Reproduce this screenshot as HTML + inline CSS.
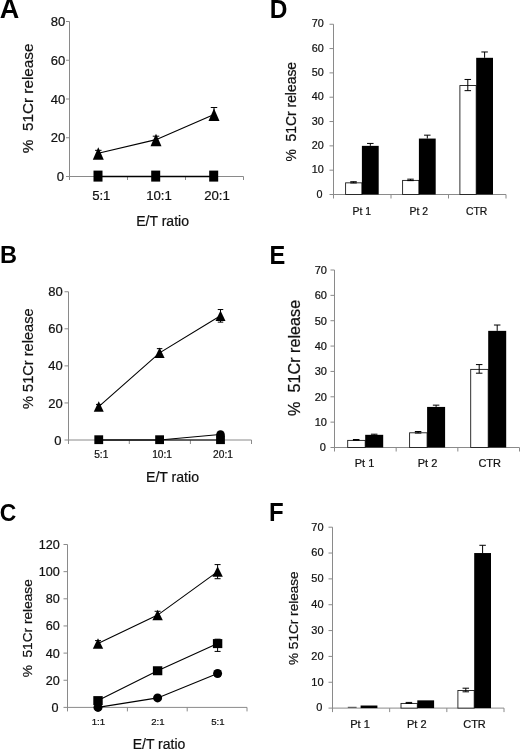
<!DOCTYPE html>
<html><head><meta charset="utf-8"><title>Figure</title>
<style>
html,body{margin:0;padding:0;background:#fff;}
body{width:520px;height:749px;overflow:hidden;font-family:'Liberation Sans', sans-serif;}
svg{display:block;}
svg text{font-family:"Liberation Sans",sans-serif;}
</style></head>
<body>
<svg style="filter:grayscale(1)" width="520" height="749" viewBox="0 0 520 749">
<rect width="520" height="749" fill="#fff"/>
<line x1="69.50" y1="21.50" x2="69.50" y2="180.00" stroke="#8a8a8a" stroke-width="1"/>
<line x1="66.00" y1="176.50" x2="243.50" y2="176.50" stroke="#8a8a8a" stroke-width="1"/>
<line x1="66.00" y1="137.75" x2="69.50" y2="137.75" stroke="#8a8a8a" stroke-width="1"/>
<line x1="66.00" y1="99.00" x2="69.50" y2="99.00" stroke="#8a8a8a" stroke-width="1"/>
<line x1="66.00" y1="60.25" x2="69.50" y2="60.25" stroke="#8a8a8a" stroke-width="1"/>
<line x1="66.00" y1="21.50" x2="69.50" y2="21.50" stroke="#8a8a8a" stroke-width="1"/>
<line x1="127.50" y1="176.50" x2="127.50" y2="180.00" stroke="#8a8a8a" stroke-width="1"/>
<line x1="185.50" y1="176.50" x2="185.50" y2="180.00" stroke="#8a8a8a" stroke-width="1"/>
<line x1="243.50" y1="176.50" x2="243.50" y2="180.00" stroke="#8a8a8a" stroke-width="1"/>
<text x="64.00" y="181.20" font-size="13" text-anchor="end" font-weight="normal" fill="#111" stroke="#111" stroke-width="0.22" xml:space="preserve">0</text>
<text x="65.20" y="142.45" font-size="13" text-anchor="end" font-weight="normal" fill="#111" stroke="#111" stroke-width="0.22" xml:space="preserve">20</text>
<text x="65.20" y="103.70" font-size="13" text-anchor="end" font-weight="normal" fill="#111" stroke="#111" stroke-width="0.22" xml:space="preserve">40</text>
<text x="65.20" y="64.95" font-size="13" text-anchor="end" font-weight="normal" fill="#111" stroke="#111" stroke-width="0.22" xml:space="preserve">60</text>
<text x="65.20" y="26.20" font-size="13" text-anchor="end" font-weight="normal" fill="#111" stroke="#111" stroke-width="0.22" xml:space="preserve">80</text>
<text x="32.60" y="153.20" font-size="15.3" text-anchor="start" font-weight="normal" fill="#111" stroke="#111" stroke-width="0.22" xml:space="preserve" transform="rotate(-90 32.60 153.20)">%  51Cr release</text>
<polyline points="98.30,153.25 156.00,139.69 214.00,114.50" fill="none" stroke="#000" stroke-width="1.2"/>
<line x1="98.30" y1="176.50" x2="214.00" y2="176.50" stroke="#000" stroke-width="1.4"/>
<line x1="98.30" y1="150.34" x2="98.30" y2="153.25" stroke="#000" stroke-width="1.0"/>
<line x1="95.05" y1="150.34" x2="101.55" y2="150.34" stroke="#000" stroke-width="1.0"/>
<polygon points="98.30,147.20 103.80,159.70 92.80,159.70" fill="#000"/>
<line x1="156.00" y1="136.20" x2="156.00" y2="139.69" stroke="#000" stroke-width="1.0"/>
<line x1="152.75" y1="136.20" x2="159.25" y2="136.20" stroke="#000" stroke-width="1.0"/>
<polygon points="156.00,133.64 161.50,146.14 150.50,146.14" fill="#000"/>
<line x1="214.00" y1="107.52" x2="214.00" y2="114.50" stroke="#000" stroke-width="1.0"/>
<line x1="210.75" y1="107.52" x2="217.25" y2="107.52" stroke="#000" stroke-width="1.0"/>
<polygon points="214.00,108.45 219.50,120.95 208.50,120.95" fill="#000"/>
<rect x="93.50" y="170.60" width="9.00" height="11.00" fill="#000"/>
<rect x="151.20" y="170.60" width="9.00" height="11.00" fill="#000"/>
<rect x="209.20" y="170.60" width="9.00" height="11.00" fill="#000"/>
<text x="101.30" y="200.40" font-size="13.2" text-anchor="middle" font-weight="normal" fill="#111" stroke="#111" stroke-width="0.22" xml:space="preserve">5:1</text>
<text x="159.00" y="200.40" font-size="13.2" text-anchor="middle" font-weight="normal" fill="#111" stroke="#111" stroke-width="0.22" xml:space="preserve">10:1</text>
<text x="217.00" y="200.40" font-size="13.2" text-anchor="middle" font-weight="normal" fill="#111" stroke="#111" stroke-width="0.22" xml:space="preserve">20:1</text>
<text x="162.60" y="225.50" font-size="14" text-anchor="middle" font-weight="normal" fill="#111" stroke="#111" stroke-width="0.22" xml:space="preserve">E/T ratio</text>
<text transform="translate(-0.30 18.10) scale(1.0 1)" x="0" y="0" font-size="27" font-weight="bold" fill="#000">A</text>
<line x1="68.50" y1="291.75" x2="68.50" y2="444.00" stroke="#8a8a8a" stroke-width="1"/>
<line x1="64.50" y1="440.00" x2="251.50" y2="440.00" stroke="#8a8a8a" stroke-width="1"/>
<line x1="64.50" y1="402.94" x2="68.50" y2="402.94" stroke="#8a8a8a" stroke-width="1"/>
<line x1="64.50" y1="365.88" x2="68.50" y2="365.88" stroke="#8a8a8a" stroke-width="1"/>
<line x1="64.50" y1="328.81" x2="68.50" y2="328.81" stroke="#8a8a8a" stroke-width="1"/>
<line x1="64.50" y1="291.75" x2="68.50" y2="291.75" stroke="#8a8a8a" stroke-width="1"/>
<line x1="129.30" y1="440.00" x2="129.30" y2="444.00" stroke="#8a8a8a" stroke-width="1"/>
<line x1="190.40" y1="440.00" x2="190.40" y2="444.00" stroke="#8a8a8a" stroke-width="1"/>
<line x1="251.50" y1="440.00" x2="251.50" y2="444.00" stroke="#8a8a8a" stroke-width="1"/>
<text x="61.50" y="444.60" font-size="13" text-anchor="end" font-weight="normal" fill="#111" stroke="#111" stroke-width="0.22" xml:space="preserve">0</text>
<text x="62.70" y="407.54" font-size="13" text-anchor="end" font-weight="normal" fill="#111" stroke="#111" stroke-width="0.22" xml:space="preserve">20</text>
<text x="62.70" y="370.48" font-size="13" text-anchor="end" font-weight="normal" fill="#111" stroke="#111" stroke-width="0.22" xml:space="preserve">40</text>
<text x="62.70" y="333.41" font-size="13" text-anchor="end" font-weight="normal" fill="#111" stroke="#111" stroke-width="0.22" xml:space="preserve">60</text>
<text x="62.70" y="296.35" font-size="13" text-anchor="end" font-weight="normal" fill="#111" stroke="#111" stroke-width="0.22" xml:space="preserve">80</text>
<text x="32.60" y="409.00" font-size="14.6" text-anchor="start" font-weight="normal" fill="#111" stroke="#111" stroke-width="0.22" xml:space="preserve" transform="rotate(-90 32.60 409.00)">% 51Cr release</text>
<polyline points="98.75,406.64 159.60,352.90 220.50,315.84" fill="none" stroke="#000" stroke-width="1.1"/>
<line x1="98.75" y1="440.00" x2="220.50" y2="440.00" stroke="#000" stroke-width="1.2"/>
<polyline points="98.75,440.00 159.60,440.00 220.50,434.44" fill="none" stroke="#000" stroke-width="1.0"/>
<line x1="98.75" y1="404.42" x2="98.75" y2="408.87" stroke="#000" stroke-width="1.0"/>
<line x1="96.00" y1="404.42" x2="101.50" y2="404.42" stroke="#000" stroke-width="1.0"/>
<line x1="96.00" y1="408.87" x2="101.50" y2="408.87" stroke="#000" stroke-width="1.0"/>
<polygon points="98.75,401.19 103.75,411.69 93.75,411.69" fill="#000"/>
<line x1="159.60" y1="348.64" x2="159.60" y2="357.17" stroke="#000" stroke-width="1.0"/>
<line x1="156.85" y1="348.64" x2="162.35" y2="348.64" stroke="#000" stroke-width="1.0"/>
<line x1="156.85" y1="357.17" x2="162.35" y2="357.17" stroke="#000" stroke-width="1.0"/>
<polygon points="159.60,347.45 164.60,357.95 154.60,357.95" fill="#000"/>
<line x1="220.50" y1="309.54" x2="220.50" y2="322.14" stroke="#000" stroke-width="1.0"/>
<line x1="217.75" y1="309.54" x2="223.25" y2="309.54" stroke="#000" stroke-width="1.0"/>
<line x1="217.75" y1="322.14" x2="223.25" y2="322.14" stroke="#000" stroke-width="1.0"/>
<polygon points="220.50,310.39 225.50,320.89 215.50,320.89" fill="#000"/>
<rect x="94.35" y="435.30" width="8.80" height="8.80" fill="#000"/>
<rect x="155.20" y="435.30" width="8.80" height="8.80" fill="#000"/>
<rect x="216.10" y="435.30" width="8.80" height="8.80" fill="#000"/>
<circle cx="220.50" cy="434.44" r="4.30" fill="#000"/>
<text x="101.25" y="458.10" font-size="10.2" text-anchor="middle" font-weight="normal" fill="#111" stroke="#111" stroke-width="0.22" xml:space="preserve">5:1</text>
<text x="162.10" y="458.10" font-size="10.2" text-anchor="middle" font-weight="normal" fill="#111" stroke="#111" stroke-width="0.22" xml:space="preserve">10:1</text>
<text x="223.00" y="458.10" font-size="10.2" text-anchor="middle" font-weight="normal" fill="#111" stroke="#111" stroke-width="0.22" xml:space="preserve">20:1</text>
<text x="172.50" y="481.80" font-size="14.1" text-anchor="middle" font-weight="normal" fill="#111" stroke="#111" stroke-width="0.22" xml:space="preserve">E/T ratio</text>
<text transform="translate(-0.10 263.30) scale(0.97 1)" x="0" y="0" font-size="24.3" font-weight="bold" fill="#000">B</text>
<line x1="67.50" y1="544.50" x2="67.50" y2="711.40" stroke="#8a8a8a" stroke-width="1"/>
<line x1="63.50" y1="707.40" x2="247.00" y2="707.40" stroke="#8a8a8a" stroke-width="1"/>
<line x1="63.50" y1="680.25" x2="67.50" y2="680.25" stroke="#8a8a8a" stroke-width="1"/>
<line x1="63.50" y1="653.10" x2="67.50" y2="653.10" stroke="#8a8a8a" stroke-width="1"/>
<line x1="63.50" y1="625.95" x2="67.50" y2="625.95" stroke="#8a8a8a" stroke-width="1"/>
<line x1="63.50" y1="598.80" x2="67.50" y2="598.80" stroke="#8a8a8a" stroke-width="1"/>
<line x1="63.50" y1="571.65" x2="67.50" y2="571.65" stroke="#8a8a8a" stroke-width="1"/>
<line x1="63.50" y1="544.50" x2="67.50" y2="544.50" stroke="#8a8a8a" stroke-width="1"/>
<line x1="127.40" y1="707.40" x2="127.40" y2="711.40" stroke="#8a8a8a" stroke-width="1"/>
<line x1="187.20" y1="707.40" x2="187.20" y2="711.40" stroke="#8a8a8a" stroke-width="1"/>
<line x1="247.00" y1="707.40" x2="247.00" y2="711.40" stroke="#8a8a8a" stroke-width="1"/>
<text x="58.60" y="711.90" font-size="12.6" text-anchor="end" font-weight="normal" fill="#111" stroke="#111" stroke-width="0.22" xml:space="preserve">0</text>
<text x="59.80" y="684.75" font-size="12.6" text-anchor="end" font-weight="normal" fill="#111" stroke="#111" stroke-width="0.22" xml:space="preserve">20</text>
<text x="59.80" y="657.60" font-size="12.6" text-anchor="end" font-weight="normal" fill="#111" stroke="#111" stroke-width="0.22" xml:space="preserve">40</text>
<text x="59.80" y="630.45" font-size="12.6" text-anchor="end" font-weight="normal" fill="#111" stroke="#111" stroke-width="0.22" xml:space="preserve">60</text>
<text x="59.80" y="603.30" font-size="12.6" text-anchor="end" font-weight="normal" fill="#111" stroke="#111" stroke-width="0.22" xml:space="preserve">80</text>
<text x="59.80" y="576.15" font-size="12.6" text-anchor="end" font-weight="normal" fill="#111" stroke="#111" stroke-width="0.22" xml:space="preserve">100</text>
<text x="59.80" y="549.00" font-size="12.6" text-anchor="end" font-weight="normal" fill="#111" stroke="#111" stroke-width="0.22" xml:space="preserve">120</text>
<text x="32.20" y="677.30" font-size="13.7" text-anchor="start" font-weight="normal" fill="#111" stroke="#111" stroke-width="0.22" xml:space="preserve" transform="rotate(-90 32.20 677.30)">%  51Cr release</text>
<polyline points="98.00,643.60 157.60,615.09 217.60,571.65" fill="none" stroke="#000" stroke-width="1.1"/>
<polyline points="98.00,700.61 157.60,670.75 217.60,643.60" fill="none" stroke="#000" stroke-width="1.1"/>
<polyline points="98.00,707.40 157.60,697.90 217.60,673.46" fill="none" stroke="#000" stroke-width="1.1"/>
<line x1="98.00" y1="640.61" x2="98.00" y2="646.58" stroke="#000" stroke-width="1.0"/>
<line x1="95.00" y1="640.61" x2="101.00" y2="640.61" stroke="#000" stroke-width="1.0"/>
<line x1="95.00" y1="646.58" x2="101.00" y2="646.58" stroke="#000" stroke-width="1.0"/>
<polygon points="98.00,638.15 103.20,648.65 92.80,648.65" fill="#000"/>
<line x1="157.60" y1="611.29" x2="157.60" y2="618.89" stroke="#000" stroke-width="1.0"/>
<line x1="154.60" y1="611.29" x2="160.60" y2="611.29" stroke="#000" stroke-width="1.0"/>
<line x1="154.60" y1="618.89" x2="160.60" y2="618.89" stroke="#000" stroke-width="1.0"/>
<polygon points="157.60,609.64 162.80,620.14 152.40,620.14" fill="#000"/>
<line x1="217.60" y1="564.59" x2="217.60" y2="578.71" stroke="#000" stroke-width="1.0"/>
<line x1="214.60" y1="564.59" x2="220.60" y2="564.59" stroke="#000" stroke-width="1.0"/>
<line x1="214.60" y1="578.71" x2="220.60" y2="578.71" stroke="#000" stroke-width="1.0"/>
<polygon points="217.60,566.20 222.80,576.70 212.40,576.70" fill="#000"/>
<line x1="98.00" y1="700.96" x2="98.00" y2="703.67" stroke="#000" stroke-width="1.0"/>
<line x1="95.00" y1="700.96" x2="101.00" y2="700.96" stroke="#000" stroke-width="1.0"/>
<line x1="95.00" y1="703.67" x2="101.00" y2="703.67" stroke="#000" stroke-width="1.0"/>
<rect x="93.30" y="696.11" width="9.40" height="9.00" fill="#000"/>
<line x1="157.60" y1="670.41" x2="157.60" y2="674.48" stroke="#000" stroke-width="1.0"/>
<line x1="154.60" y1="670.41" x2="160.60" y2="670.41" stroke="#000" stroke-width="1.0"/>
<line x1="154.60" y1="674.48" x2="160.60" y2="674.48" stroke="#000" stroke-width="1.0"/>
<rect x="152.90" y="666.25" width="9.40" height="9.00" fill="#000"/>
<line x1="217.60" y1="639.19" x2="217.60" y2="651.41" stroke="#000" stroke-width="1.0"/>
<line x1="214.60" y1="639.19" x2="220.60" y2="639.19" stroke="#000" stroke-width="1.0"/>
<line x1="214.60" y1="651.41" x2="220.60" y2="651.41" stroke="#000" stroke-width="1.0"/>
<rect x="212.90" y="639.10" width="9.40" height="9.00" fill="#000"/>
<circle cx="98.00" cy="707.40" r="4.50" fill="#000"/>
<line x1="157.60" y1="696.81" x2="157.60" y2="698.98" stroke="#000" stroke-width="1.0"/>
<line x1="154.60" y1="696.81" x2="160.60" y2="696.81" stroke="#000" stroke-width="1.0"/>
<line x1="154.60" y1="698.98" x2="160.60" y2="698.98" stroke="#000" stroke-width="1.0"/>
<circle cx="157.60" cy="697.90" r="4.50" fill="#000"/>
<line x1="217.60" y1="670.75" x2="217.60" y2="676.18" stroke="#000" stroke-width="1.0"/>
<line x1="214.60" y1="670.75" x2="220.60" y2="670.75" stroke="#000" stroke-width="1.0"/>
<line x1="214.60" y1="676.18" x2="220.60" y2="676.18" stroke="#000" stroke-width="1.0"/>
<circle cx="217.60" cy="673.46" r="4.50" fill="#000"/>
<text x="98.30" y="724.90" font-size="9.6" text-anchor="middle" font-weight="normal" fill="#111" stroke="#111" stroke-width="0.22" xml:space="preserve">1:1</text>
<text x="157.90" y="724.90" font-size="9.6" text-anchor="middle" font-weight="normal" fill="#111" stroke="#111" stroke-width="0.22" xml:space="preserve">2:1</text>
<text x="217.90" y="724.90" font-size="9.6" text-anchor="middle" font-weight="normal" fill="#111" stroke="#111" stroke-width="0.22" xml:space="preserve">5:1</text>
<text x="159.00" y="749.20" font-size="14" text-anchor="middle" font-weight="normal" fill="#111" stroke="#111" stroke-width="0.22" xml:space="preserve">E/T ratio</text>
<text transform="translate(-0.20 521.20) scale(0.935 1)" x="0" y="0" font-size="24.5" font-weight="bold" fill="#000">C</text>
<line x1="333.50" y1="24.25" x2="333.50" y2="198.50" stroke="#8a8a8a" stroke-width="1"/>
<line x1="329.50" y1="194.50" x2="506.00" y2="194.50" stroke="#8a8a8a" stroke-width="1"/>
<line x1="329.50" y1="170.18" x2="333.50" y2="170.18" stroke="#8a8a8a" stroke-width="1"/>
<line x1="329.50" y1="145.86" x2="333.50" y2="145.86" stroke="#8a8a8a" stroke-width="1"/>
<line x1="329.50" y1="121.54" x2="333.50" y2="121.54" stroke="#8a8a8a" stroke-width="1"/>
<line x1="329.50" y1="97.21" x2="333.50" y2="97.21" stroke="#8a8a8a" stroke-width="1"/>
<line x1="329.50" y1="72.89" x2="333.50" y2="72.89" stroke="#8a8a8a" stroke-width="1"/>
<line x1="329.50" y1="48.57" x2="333.50" y2="48.57" stroke="#8a8a8a" stroke-width="1"/>
<line x1="329.50" y1="24.25" x2="333.50" y2="24.25" stroke="#8a8a8a" stroke-width="1"/>
<line x1="391.00" y1="194.50" x2="391.00" y2="198.50" stroke="#8a8a8a" stroke-width="1"/>
<line x1="448.50" y1="194.50" x2="448.50" y2="198.50" stroke="#8a8a8a" stroke-width="1"/>
<line x1="506.00" y1="194.50" x2="506.00" y2="198.50" stroke="#8a8a8a" stroke-width="1"/>
<text x="322.50" y="197.67" font-size="10.8" text-anchor="end" font-weight="normal" fill="#111" stroke="#111" stroke-width="0.22" xml:space="preserve">0</text>
<text x="323.70" y="173.34" font-size="10.8" text-anchor="end" font-weight="normal" fill="#111" stroke="#111" stroke-width="0.22" xml:space="preserve">10</text>
<text x="323.70" y="149.02" font-size="10.8" text-anchor="end" font-weight="normal" fill="#111" stroke="#111" stroke-width="0.22" xml:space="preserve">20</text>
<text x="323.70" y="124.70" font-size="10.8" text-anchor="end" font-weight="normal" fill="#111" stroke="#111" stroke-width="0.22" xml:space="preserve">30</text>
<text x="323.70" y="100.38" font-size="10.8" text-anchor="end" font-weight="normal" fill="#111" stroke="#111" stroke-width="0.22" xml:space="preserve">40</text>
<text x="323.70" y="76.06" font-size="10.8" text-anchor="end" font-weight="normal" fill="#111" stroke="#111" stroke-width="0.22" xml:space="preserve">50</text>
<text x="323.70" y="51.74" font-size="10.8" text-anchor="end" font-weight="normal" fill="#111" stroke="#111" stroke-width="0.22" xml:space="preserve">60</text>
<text x="323.70" y="27.42" font-size="10.8" text-anchor="end" font-weight="normal" fill="#111" stroke="#111" stroke-width="0.22" xml:space="preserve">70</text>
<rect x="345.60" y="182.84" width="16.30" height="11.66" fill="#fff" stroke="#1a1a1a" stroke-width="0.9"/>
<rect x="361.90" y="145.86" width="16.80" height="48.64" fill="#000"/>
<line x1="353.50" y1="181.73" x2="353.50" y2="182.95" stroke="#000" stroke-width="1.0"/>
<line x1="350.25" y1="181.73" x2="356.75" y2="181.73" stroke="#000" stroke-width="1.0"/>
<line x1="350.25" y1="182.95" x2="356.75" y2="182.95" stroke="#000" stroke-width="1.0"/>
<line x1="370.30" y1="143.43" x2="370.30" y2="145.86" stroke="#000" stroke-width="1.0"/>
<line x1="367.05" y1="143.43" x2="373.55" y2="143.43" stroke="#000" stroke-width="1.0"/>
<text x="361.80" y="214.60" font-size="10.4" text-anchor="middle" font-weight="normal" fill="#111" stroke="#111" stroke-width="0.22" xml:space="preserve">Pt 1</text>
<rect x="402.60" y="180.41" width="16.30" height="14.09" fill="#fff" stroke="#1a1a1a" stroke-width="0.9"/>
<rect x="418.90" y="138.56" width="16.80" height="55.94" fill="#000"/>
<line x1="410.50" y1="179.18" x2="410.50" y2="180.64" stroke="#000" stroke-width="1.0"/>
<line x1="407.25" y1="179.18" x2="413.75" y2="179.18" stroke="#000" stroke-width="1.0"/>
<line x1="407.25" y1="180.64" x2="413.75" y2="180.64" stroke="#000" stroke-width="1.0"/>
<line x1="427.30" y1="135.16" x2="427.30" y2="138.56" stroke="#000" stroke-width="1.0"/>
<line x1="424.05" y1="135.16" x2="430.55" y2="135.16" stroke="#000" stroke-width="1.0"/>
<text x="418.70" y="214.60" font-size="10.4" text-anchor="middle" font-weight="normal" fill="#111" stroke="#111" stroke-width="0.22" xml:space="preserve">Pt 2</text>
<rect x="459.90" y="85.55" width="16.30" height="108.95" fill="#fff" stroke="#1a1a1a" stroke-width="0.9"/>
<rect x="476.20" y="57.81" width="16.80" height="136.69" fill="#000"/>
<line x1="467.80" y1="79.46" x2="467.80" y2="90.65" stroke="#000" stroke-width="1.0"/>
<line x1="464.55" y1="79.46" x2="471.05" y2="79.46" stroke="#000" stroke-width="1.0"/>
<line x1="464.55" y1="90.65" x2="471.05" y2="90.65" stroke="#000" stroke-width="1.0"/>
<line x1="484.60" y1="51.98" x2="484.60" y2="57.81" stroke="#000" stroke-width="1.0"/>
<line x1="481.35" y1="51.98" x2="487.85" y2="51.98" stroke="#000" stroke-width="1.0"/>
<text x="476.60" y="214.60" font-size="10.4" text-anchor="middle" font-weight="normal" fill="#111" stroke="#111" stroke-width="0.22" xml:space="preserve">CTR</text>
<text x="296.20" y="161.50" font-size="13.9" text-anchor="start" font-weight="normal" fill="#111" stroke="#111" stroke-width="0.22" xml:space="preserve" transform="rotate(-90 296.20 161.50)">%  51Cr release</text>
<text transform="translate(269.70 18.10) scale(0.93 1)" x="0" y="0" font-size="26.3" font-weight="bold" fill="#000">D</text>
<line x1="334.50" y1="270.00" x2="334.50" y2="451.50" stroke="#8a8a8a" stroke-width="1"/>
<line x1="330.50" y1="447.50" x2="519.50" y2="447.50" stroke="#8a8a8a" stroke-width="1"/>
<line x1="330.50" y1="422.14" x2="334.50" y2="422.14" stroke="#8a8a8a" stroke-width="1"/>
<line x1="330.50" y1="396.79" x2="334.50" y2="396.79" stroke="#8a8a8a" stroke-width="1"/>
<line x1="330.50" y1="371.43" x2="334.50" y2="371.43" stroke="#8a8a8a" stroke-width="1"/>
<line x1="330.50" y1="346.07" x2="334.50" y2="346.07" stroke="#8a8a8a" stroke-width="1"/>
<line x1="330.50" y1="320.71" x2="334.50" y2="320.71" stroke="#8a8a8a" stroke-width="1"/>
<line x1="330.50" y1="295.36" x2="334.50" y2="295.36" stroke="#8a8a8a" stroke-width="1"/>
<line x1="330.50" y1="270.00" x2="334.50" y2="270.00" stroke="#8a8a8a" stroke-width="1"/>
<line x1="396.17" y1="447.50" x2="396.17" y2="451.50" stroke="#8a8a8a" stroke-width="1"/>
<line x1="457.83" y1="447.50" x2="457.83" y2="451.50" stroke="#8a8a8a" stroke-width="1"/>
<line x1="519.50" y1="447.50" x2="519.50" y2="451.50" stroke="#8a8a8a" stroke-width="1"/>
<text x="325.80" y="451.44" font-size="11" text-anchor="end" font-weight="normal" fill="#111" stroke="#111" stroke-width="0.22" xml:space="preserve">0</text>
<text x="327.00" y="426.08" font-size="11" text-anchor="end" font-weight="normal" fill="#111" stroke="#111" stroke-width="0.22" xml:space="preserve">10</text>
<text x="327.00" y="400.72" font-size="11" text-anchor="end" font-weight="normal" fill="#111" stroke="#111" stroke-width="0.22" xml:space="preserve">20</text>
<text x="327.00" y="375.37" font-size="11" text-anchor="end" font-weight="normal" fill="#111" stroke="#111" stroke-width="0.22" xml:space="preserve">30</text>
<text x="327.00" y="350.01" font-size="11" text-anchor="end" font-weight="normal" fill="#111" stroke="#111" stroke-width="0.22" xml:space="preserve">40</text>
<text x="327.00" y="324.65" font-size="11" text-anchor="end" font-weight="normal" fill="#111" stroke="#111" stroke-width="0.22" xml:space="preserve">50</text>
<text x="327.00" y="299.30" font-size="11" text-anchor="end" font-weight="normal" fill="#111" stroke="#111" stroke-width="0.22" xml:space="preserve">60</text>
<text x="327.00" y="273.94" font-size="11" text-anchor="end" font-weight="normal" fill="#111" stroke="#111" stroke-width="0.22" xml:space="preserve">70</text>
<rect x="347.70" y="440.39" width="17.50" height="7.11" fill="#fff" stroke="#1a1a1a" stroke-width="0.9"/>
<rect x="365.20" y="434.82" width="18.00" height="12.68" fill="#000"/>
<line x1="356.20" y1="439.51" x2="356.20" y2="440.27" stroke="#000" stroke-width="1.0"/>
<line x1="352.95" y1="439.51" x2="359.45" y2="439.51" stroke="#000" stroke-width="1.0"/>
<line x1="352.95" y1="440.27" x2="359.45" y2="440.27" stroke="#000" stroke-width="1.0"/>
<line x1="374.20" y1="434.19" x2="374.20" y2="434.82" stroke="#000" stroke-width="1.0"/>
<line x1="370.95" y1="434.19" x2="377.45" y2="434.19" stroke="#000" stroke-width="1.0"/>
<text x="364.50" y="467.30" font-size="11" text-anchor="middle" font-weight="normal" fill="#111" stroke="#111" stroke-width="0.22" xml:space="preserve">Pt 1</text>
<rect x="409.60" y="432.79" width="17.50" height="14.71" fill="#fff" stroke="#1a1a1a" stroke-width="0.9"/>
<rect x="427.10" y="406.93" width="18.00" height="40.57" fill="#000"/>
<line x1="418.10" y1="431.52" x2="418.10" y2="433.05" stroke="#000" stroke-width="1.0"/>
<line x1="414.85" y1="431.52" x2="421.35" y2="431.52" stroke="#000" stroke-width="1.0"/>
<line x1="414.85" y1="433.05" x2="421.35" y2="433.05" stroke="#000" stroke-width="1.0"/>
<line x1="436.10" y1="405.15" x2="436.10" y2="406.93" stroke="#000" stroke-width="1.0"/>
<line x1="432.85" y1="405.15" x2="439.35" y2="405.15" stroke="#000" stroke-width="1.0"/>
<text x="427.50" y="467.30" font-size="11" text-anchor="middle" font-weight="normal" fill="#111" stroke="#111" stroke-width="0.22" xml:space="preserve">Pt 2</text>
<rect x="470.70" y="369.39" width="17.50" height="78.11" fill="#fff" stroke="#1a1a1a" stroke-width="0.9"/>
<rect x="488.20" y="330.86" width="18.00" height="116.64" fill="#000"/>
<line x1="479.20" y1="364.58" x2="479.20" y2="373.20" stroke="#000" stroke-width="1.0"/>
<line x1="475.95" y1="364.58" x2="482.45" y2="364.58" stroke="#000" stroke-width="1.0"/>
<line x1="475.95" y1="373.20" x2="482.45" y2="373.20" stroke="#000" stroke-width="1.0"/>
<line x1="497.20" y1="325.03" x2="497.20" y2="330.86" stroke="#000" stroke-width="1.0"/>
<line x1="493.95" y1="325.03" x2="500.45" y2="325.03" stroke="#000" stroke-width="1.0"/>
<text x="489.70" y="467.30" font-size="11" text-anchor="middle" font-weight="normal" fill="#111" stroke="#111" stroke-width="0.22" xml:space="preserve">CTR</text>
<text x="299.80" y="415.90" font-size="16.2" text-anchor="start" font-weight="normal" fill="#111" stroke="#111" stroke-width="0.22" xml:space="preserve" transform="rotate(-90 299.80 415.90)">%  51Cr release</text>
<text transform="translate(269.50 263.65) scale(0.925 1)" x="0" y="0" font-size="25.6" font-weight="bold" fill="#000">E</text>
<line x1="332.50" y1="527.20" x2="332.50" y2="712.10" stroke="#8a8a8a" stroke-width="1"/>
<line x1="328.50" y1="708.10" x2="504.00" y2="708.10" stroke="#8a8a8a" stroke-width="1"/>
<line x1="328.50" y1="682.26" x2="332.50" y2="682.26" stroke="#8a8a8a" stroke-width="1"/>
<line x1="328.50" y1="656.41" x2="332.50" y2="656.41" stroke="#8a8a8a" stroke-width="1"/>
<line x1="328.50" y1="630.57" x2="332.50" y2="630.57" stroke="#8a8a8a" stroke-width="1"/>
<line x1="328.50" y1="604.73" x2="332.50" y2="604.73" stroke="#8a8a8a" stroke-width="1"/>
<line x1="328.50" y1="578.89" x2="332.50" y2="578.89" stroke="#8a8a8a" stroke-width="1"/>
<line x1="328.50" y1="553.04" x2="332.50" y2="553.04" stroke="#8a8a8a" stroke-width="1"/>
<line x1="328.50" y1="527.20" x2="332.50" y2="527.20" stroke="#8a8a8a" stroke-width="1"/>
<line x1="389.67" y1="708.10" x2="389.67" y2="712.10" stroke="#8a8a8a" stroke-width="1"/>
<line x1="446.83" y1="708.10" x2="446.83" y2="712.10" stroke="#8a8a8a" stroke-width="1"/>
<line x1="504.00" y1="708.10" x2="504.00" y2="712.10" stroke="#8a8a8a" stroke-width="1"/>
<text x="322.40" y="711.44" font-size="11" text-anchor="end" font-weight="normal" fill="#111" stroke="#111" stroke-width="0.22" xml:space="preserve">0</text>
<text x="323.60" y="685.60" font-size="11" text-anchor="end" font-weight="normal" fill="#111" stroke="#111" stroke-width="0.22" xml:space="preserve">10</text>
<text x="323.60" y="659.75" font-size="11" text-anchor="end" font-weight="normal" fill="#111" stroke="#111" stroke-width="0.22" xml:space="preserve">20</text>
<text x="323.60" y="633.91" font-size="11" text-anchor="end" font-weight="normal" fill="#111" stroke="#111" stroke-width="0.22" xml:space="preserve">30</text>
<text x="323.60" y="608.07" font-size="11" text-anchor="end" font-weight="normal" fill="#111" stroke="#111" stroke-width="0.22" xml:space="preserve">40</text>
<text x="323.60" y="582.22" font-size="11" text-anchor="end" font-weight="normal" fill="#111" stroke="#111" stroke-width="0.22" xml:space="preserve">50</text>
<text x="323.60" y="556.38" font-size="11" text-anchor="end" font-weight="normal" fill="#111" stroke="#111" stroke-width="0.22" xml:space="preserve">60</text>
<text x="323.60" y="530.54" font-size="11" text-anchor="end" font-weight="normal" fill="#111" stroke="#111" stroke-width="0.22" xml:space="preserve">70</text>
<line x1="347.80" y1="707.30" x2="356.60" y2="707.30" stroke="#444" stroke-width="1"/>
<rect x="360.60" y="705.52" width="16.80" height="2.58" fill="#000"/>
<text x="360.00" y="728.10" font-size="11" text-anchor="middle" font-weight="normal" fill="#111" stroke="#111" stroke-width="0.22" xml:space="preserve">Pt 1</text>
<rect x="401.00" y="703.43" width="16.30" height="4.67" fill="#fff" stroke="#1a1a1a" stroke-width="0.9"/>
<rect x="417.30" y="700.35" width="16.80" height="7.75" fill="#000"/>
<line x1="408.90" y1="702.41" x2="408.90" y2="703.45" stroke="#000" stroke-width="1.0"/>
<line x1="405.65" y1="702.41" x2="412.15" y2="702.41" stroke="#000" stroke-width="1.0"/>
<line x1="405.65" y1="703.45" x2="412.15" y2="703.45" stroke="#000" stroke-width="1.0"/>
<text x="416.80" y="728.10" font-size="11" text-anchor="middle" font-weight="normal" fill="#111" stroke="#111" stroke-width="0.22" xml:space="preserve">Pt 2</text>
<rect x="457.90" y="690.51" width="16.30" height="17.59" fill="#fff" stroke="#1a1a1a" stroke-width="0.9"/>
<rect x="474.20" y="553.04" width="16.80" height="155.06" fill="#000"/>
<line x1="465.80" y1="688.20" x2="465.80" y2="691.82" stroke="#000" stroke-width="1.0"/>
<line x1="462.55" y1="688.20" x2="469.05" y2="688.20" stroke="#000" stroke-width="1.0"/>
<line x1="462.55" y1="691.82" x2="469.05" y2="691.82" stroke="#000" stroke-width="1.0"/>
<line x1="482.60" y1="545.29" x2="482.60" y2="553.04" stroke="#000" stroke-width="1.0"/>
<line x1="479.35" y1="545.29" x2="485.85" y2="545.29" stroke="#000" stroke-width="1.0"/>
<text x="474.50" y="728.10" font-size="11" text-anchor="middle" font-weight="normal" fill="#111" stroke="#111" stroke-width="0.22" xml:space="preserve">CTR</text>
<text x="298.10" y="665.00" font-size="13.6" text-anchor="start" font-weight="normal" fill="#111" stroke="#111" stroke-width="0.22" xml:space="preserve" transform="rotate(-90 298.10 665.00)">% 51Cr release</text>
<text transform="translate(268.90 521.00) scale(0.95 1)" x="0" y="0" font-size="25.3" font-weight="bold" fill="#000">F</text>
</svg>
</body></html>
